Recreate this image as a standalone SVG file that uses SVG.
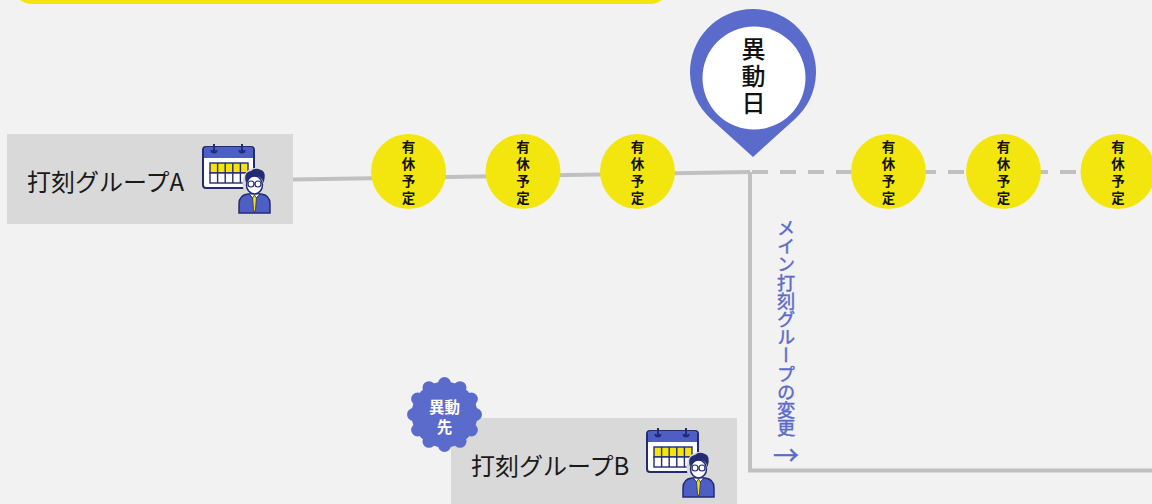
<svg xmlns="http://www.w3.org/2000/svg" xmlns:xlink="http://www.w3.org/1999/xlink" width="1152" height="504" viewBox="0 0 1152 504">
  <style>
    .jp { font-family: "Noto Sans CJK JP", "Noto Sans", sans-serif; }
    .vert { writing-mode: vertical-rl; }
    .box { fill: #d9d9d9; }
    .boxlabel { font-size: 24px; fill: #1a1a1a; }
    .track { stroke: #c0c0c0; stroke-width: 4; fill: none; }
    .dash { stroke-dasharray: 16 12; }
    .leave circle { fill: #f3e60e; }
    .leave text { font-size: 13.5px; font-weight: 700; fill: #111; letter-spacing: 3.5px; }
    .blue { fill: #5b6bcb; }
  </style>
  <defs>
    <!-- calendar with a staff member in front; origin = top of calendar rings -->
    <g id="staff-icon">
      <rect x="0" y="3" width="51" height="41" rx="3" fill="#fff" stroke="#232c73" stroke-width="2"/>
      <path d="M1 14 V6 a3 3 0 0 1 3 -3 H47 a3 3 0 0 1 3 3 V14 Z" fill="#4d5fc4"/>
      <g fill="none" stroke="#232c73" stroke-width="2">
        <line x1="11" y1="0" x2="11" y2="8"/>
        <line x1="39" y1="0" x2="39" y2="8"/>
        <path d="M8.5 6 a2.5 2.5 0 0 0 5 0"/>
        <path d="M36.5 6 a2.5 2.5 0 0 0 5 0"/>
      </g>
      <g stroke="#232c73" stroke-width="1.4">
        <rect x="7" y="19" width="38" height="10" fill="#f4e40b"/>
        <rect x="7" y="29" width="38" height="10" fill="#fff"/>
        <line x1="14.6" y1="19" x2="14.6" y2="39"/>
        <line x1="22.2" y1="19" x2="22.2" y2="39"/>
        <line x1="29.8" y1="19" x2="29.8" y2="39"/>
        <line x1="37.4" y1="19" x2="37.4" y2="39"/>
      </g>
      <!-- person: halo in the box colour separates it from the calendar -->
      <g fill="#d9d9d9" stroke="#d9d9d9" stroke-width="4">
        <path d="M36 69 V60 Q36 51 45 50 L58 50 Q67 51 67 60 V69 Z"/>
        <ellipse cx="51.5" cy="39" rx="10" ry="13"/>
      </g>
      <path d="M36 69 V60 Q36 51 45 50 L58 50 Q67 51 67 60 V69 Z" fill="#4d5fc4" stroke="#232c73" stroke-width="1.5"/>
      <path d="M46 50 L51.5 56 L57 50 Z" fill="#fff" stroke="#232c73" stroke-width="1"/>
      <path d="M51.5 51 L49.6 54 L50.5 66 L51.5 68 L52.5 66 L53.4 54 Z" fill="#f4e40b" stroke="#232c73" stroke-width="0.8"/>
      <ellipse cx="51.5" cy="41" rx="8" ry="9" fill="#fff" stroke="#232c73" stroke-width="1.5"/>
      <path d="M43 39 Q40 28 48 27 Q52 23 58 26 Q64 28 60.5 39 Q59 32 52 32 Q46 32 43 39 Z" fill="#232c73"/>
      <g fill="none" stroke="#232c73" stroke-width="1.2">
        <circle cx="48" cy="40" r="3"/>
        <circle cx="55" cy="40" r="3"/>
        <line x1="51" y1="40" x2="52" y2="40"/>
      </g>
    </g>
  </defs>

  <rect width="1152" height="504" fill="#f2f2f2"/>

  <!-- yellow banner running off the top edge -->
  <rect id="banner" x="12" y="-40" width="658" height="44" rx="20" fill="#f3e60e"/>

  <!-- connectors -->
  <g id="connectors">
    <path class="track" d="M293 179.5 L750 172"/>
    <path class="track dash" d="M752 172 H1152"/>
    <path class="track" d="M750 172 V470.5 H1152"/>
  </g>

  <!-- group A -->
  <g id="group-a">
    <rect class="box" x="7" y="134" width="286" height="90"/>
    <text class="jp boxlabel" x="27" y="191">打刻グループA</text>
    <use xlink:href="#staff-icon" x="203" y="144"/>
  </g>

  <!-- planned paid leave markers -->
  <g id="leave-1" class="leave jp">
    <circle cx="408.5" cy="171.5" r="37.5"/>
    <text class="vert" x="408.5" y="140">有休予定</text>
  </g>
  <g id="leave-2" class="leave jp">
    <circle cx="523" cy="171.5" r="37.5"/>
    <text class="vert" x="523" y="140">有休予定</text>
  </g>
  <g id="leave-3" class="leave jp">
    <circle cx="637.5" cy="171.5" r="37.5"/>
    <text class="vert" x="637.5" y="140">有休予定</text>
  </g>
  <g id="leave-4" class="leave jp">
    <circle cx="888.5" cy="171.5" r="37.5"/>
    <text class="vert" x="888.5" y="140">有休予定</text>
  </g>
  <g id="leave-5" class="leave jp">
    <circle cx="1003.5" cy="171.5" r="37.5"/>
    <text class="vert" x="1003.5" y="140">有休予定</text>
  </g>
  <g id="leave-6" class="leave jp">
    <circle cx="1118" cy="171.5" r="37.5"/>
    <text class="vert" x="1118" y="140">有休予定</text>
  </g>

  <!-- transfer-date pin -->
  <g id="transfer-date">
    <path class="blue" d="M753 157 L710.7 118.7 A63 63 0 1 1 795.3 118.7 Z"/>
    <circle cx="754" cy="78" r="51.5" fill="#fff"/>
    <text class="jp vert" x="753.5" y="37" font-size="24" font-weight="500" fill="#111" letter-spacing="3">異動日</text>
  </g>

  <!-- vertical label along the branch -->
  <g id="change-label" class="jp" fill="#5b6bcb" stroke="#5b6bcb" stroke-width="0.45">
    <text class="vert" x="786" y="219" font-size="18.2">メイン打刻グループの変更</text>
    <text x="786" y="453" font-size="26" text-anchor="middle" dominant-baseline="central">→</text>
  </g>

  <!-- group B -->
  <g id="group-b">
    <rect class="box" x="451" y="418" width="286" height="90"/>
    <text class="jp boxlabel" x="471" y="475">打刻グループB</text>
    <use xlink:href="#staff-icon" x="647" y="428"/>
  </g>

  <!-- destination badge -->
  <g id="destination-badge">
    <g class="blue" transform="translate(444.5 414.5)">
      <circle r="33"/>
      <circle cx="31" cy="0" r="6.5"/>
      <circle cx="26.85" cy="15.5" r="6.5"/>
      <circle cx="15.5" cy="26.85" r="6.5"/>
      <circle cx="0" cy="31" r="6.5"/>
      <circle cx="-15.5" cy="26.85" r="6.5"/>
      <circle cx="-26.85" cy="15.5" r="6.5"/>
      <circle cx="-31" cy="0" r="6.5"/>
      <circle cx="-26.85" cy="-15.5" r="6.5"/>
      <circle cx="-15.5" cy="-26.85" r="6.5"/>
      <circle cx="0" cy="-31" r="6.5"/>
      <circle cx="15.5" cy="-26.85" r="6.5"/>
      <circle cx="26.85" cy="-15.5" r="6.5"/>
    </g>
    <text class="jp" font-size="15.5" font-weight="700" fill="#fff" text-anchor="middle" x="444.5" y="413">異動</text>
    <text class="jp" font-size="15.5" font-weight="700" fill="#fff" text-anchor="middle" x="444.5" y="433">先</text>
  </g>
</svg>
